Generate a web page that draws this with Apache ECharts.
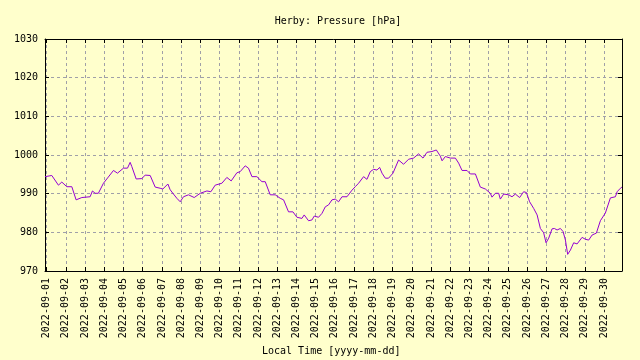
<!DOCTYPE html>
<html><head><meta charset="utf-8">
<script src="https://cdn.jsdelivr.net/npm/echarts@6/dist/echarts.min.js"></script>
<style>html,body{margin:0;padding:0;background:#ffffcc}#c{width:640px;height:360px}</style>
</head><body><div id="c"></div>
<script>
const titleText = "Herby: Pressure [hPa]";
const xAxisName = "Local Time [yyyy-mm-dd]";
const xMin = "2022-08-31 22:00";
const xMax = "2022-09-30 22:30";
const yTicks = [970, 980, 990, 1000, 1010, 1020, 1030];
const dayTicks = ["2022-09-01","2022-09-02","2022-09-03","2022-09-04","2022-09-05","2022-09-06","2022-09-07","2022-09-08","2022-09-09","2022-09-10","2022-09-11","2022-09-12","2022-09-13","2022-09-14","2022-09-15","2022-09-16","2022-09-17","2022-09-18","2022-09-19","2022-09-20","2022-09-21","2022-09-22","2022-09-23","2022-09-24","2022-09-25","2022-09-26","2022-09-27","2022-09-28","2022-09-29","2022-09-30"];
const times = ["2022-08-31 22:00","2022-09-01 06:30","2022-09-01 14:45","2022-09-01 19:00","2022-09-02 01:15","2022-09-02 07:30","2022-09-02 12:50","2022-09-02 20:00","2022-09-03 06:20","2022-09-03 09:15","2022-09-03 12:35","2022-09-03 16:40","2022-09-03 23:00","2022-09-04 11:30","2022-09-04 16:30","2022-09-05 00:00","2022-09-05 05:00","2022-09-05 08:20","2022-09-05 10:25","2022-09-05 15:50","2022-09-05 22:55","2022-09-06 03:05","2022-09-06 09:20","2022-09-06 15:35","2022-09-06 21:50","2022-09-07 01:10","2022-09-07 07:25","2022-09-07 10:20","2022-09-07 14:25","2022-09-07 18:40","2022-09-07 22:50","2022-09-08 02:55","2022-09-08 09:10","2022-09-08 16:20","2022-09-08 23:50","2022-09-09 08:10","2022-09-09 13:10","2022-09-09 18:30","2022-09-10 02:55","2022-09-10 09:05","2022-09-10 14:30","2022-09-10 21:35","2022-09-11 01:45","2022-09-11 08:00","2022-09-11 12:05","2022-09-11 16:25","2022-09-11 22:35","2022-09-12 04:55","2022-09-12 09:00","2022-09-12 15:15","2022-09-12 21:30","2022-09-13 03:45","2022-09-13 07:55","2022-09-13 14:05","2022-09-13 19:35","2022-09-14 00:35","2022-09-14 06:50","2022-09-14 09:40","2022-09-14 11:50","2022-09-14 15:05","2022-09-14 19:20","2022-09-14 22:10","2022-09-15 03:35","2022-09-15 07:50","2022-09-15 12:00","2022-09-15 16:05","2022-09-15 20:20","2022-09-16 00:30","2022-09-16 04:35","2022-09-16 08:50","2022-09-16 15:05","2022-09-16 21:20","2022-09-17 01:25","2022-09-17 05:35","2022-09-17 11:50","2022-09-17 16:00","2022-09-17 20:10","2022-09-18 00:20","2022-09-18 04:35","2022-09-18 07:50","2022-09-18 10:50","2022-09-18 14:55","2022-09-18 19:00","2022-09-19 00:30","2022-09-19 07:30","2022-09-19 13:45","2022-09-19 20:00","2022-09-20 02:15","2022-09-20 08:30","2022-09-20 14:00","2022-09-20 19:00","2022-09-21 01:15","2022-09-21 06:40","2022-09-21 11:40","2022-09-21 13:50","2022-09-21 17:55","2022-09-22 00:10","2022-09-22 06:25","2022-09-22 10:30","2022-09-22 14:45","2022-09-22 21:00","2022-09-23 01:05","2022-09-23 07:25","2022-09-23 13:35","2022-09-23 19:55","2022-09-24 02:05","2022-09-24 04:10","2022-09-24 08:25","2022-09-24 12:30","2022-09-24 14:35","2022-09-24 18:45","2022-09-25 01:00","2022-09-25 05:10","2022-09-25 09:20","2022-09-25 14:40","2022-09-25 19:40","2022-09-25 23:05","2022-09-26 03:10","2022-09-26 08:10","2022-09-26 12:30","2022-09-26 16:35","2022-09-26 20:40","2022-09-26 23:40","2022-09-27 03:00","2022-09-27 07:10","2022-09-27 10:05","2022-09-27 13:25","2022-09-27 17:35","2022-09-27 20:55","2022-09-27 23:50","2022-09-28 02:40","2022-09-28 06:05","2022-09-28 10:10","2022-09-28 14:25","2022-09-28 20:40","2022-09-29 00:50","2022-09-29 04:55","2022-09-29 09:10","2022-09-29 14:30","2022-09-29 19:30","2022-09-30 01:45","2022-09-30 08:00","2022-09-30 14:15","2022-09-30 16:25","2022-09-30 20:30","2022-09-30 22:25"];
const pressure = [994.4,994.7,992.2,993.0,991.8,991.8,988.4,989.0,989.2,990.7,990.1,990.1,992.7,996.0,995.3,996.6,996.6,998.1,997.0,993.8,993.9,994.8,994.7,991.7,991.4,991.2,992.5,991.0,989.9,988.8,987.9,989.2,989.7,989.0,990.1,990.7,990.5,992.2,992.7,994.2,993.3,995.4,995.7,997.2,996.6,994.4,994.4,993.1,993.1,989.7,989.7,988.8,988.4,985.3,985.3,983.9,983.6,984.5,984.9,983.0,983.2,984.2,983.9,984.9,986.6,987.1,988.4,988.6,987.9,989.2,989.2,990.9,991.8,992.7,994.4,993.7,995.7,996.3,996.1,996.8,995.3,994.0,994.0,995.3,998.7,997.6,998.9,999.2,1000.3,999.2,1000.7,1000.9,1001.3,999.7,998.5,999.6,999.2,999.2,997.9,996.0,996.0,995.1,995.1,991.7,991.2,990.1,989.1,990.1,990.1,988.6,989.9,989.7,989.2,989.9,989.0,990.5,990.3,987.9,986.2,984.5,981.0,979.9,977.3,978.5,980.9,981.0,980.6,981.0,980.2,978.0,974.3,975.4,977.3,977.0,978.7,978.2,978.0,979.3,979.8,983.0,985.0,988.9,989.2,990.5,991.4,991.7];

function ts(s){const p=s.split(/[- :]/).map(Number);return Date.UTC(p[0],p[1]-1,p[2],p[3]||0,p[4]||0);}
const dayVals = dayTicks.map(ts);
const seriesData = times.map((t,i)=>[ts(t), pressure[i]]);
const font = "DejaVu Sans Mono";
const grid = {left:45, right:18, top:39, bottom:89};
const gridLine = {show:true, lineStyle:{color:'#a0a0a8', type:[3,3], width:1}};
function xAx(pos, labels){
  return {type:'value', position:pos, min:ts(xMin), max:ts(xMax), gridIndex:0,
    axisLine:{show:true, onZero:false, lineStyle:{color:'#000', width:1}},
    axisTick:{show:true, inside:true, length:4, customValues:dayVals, lineStyle:{color:'#000'}},
    axisLabel:{show:labels, customValues:dayVals, rotate:90, margin:7, color:'#000', fontFamily:font, fontSize:10,
      formatter:(v)=>{const d=new Date(v);return d.getUTCFullYear()+'-'+String(d.getUTCMonth()+1).padStart(2,'0')+'-'+String(d.getUTCDate()).padStart(2,'0');}},
    splitLine: labels ? gridLine : {show:false}};
}
function yAx(pos, labels){
  return {type:'value', position:pos, min:yTicks[0], max:yTicks[yTicks.length-1], interval:10,
    axisLine:{show:true, onZero:false, lineStyle:{color:'#000', width:1}},
    axisTick:{show:true, inside:true, length:4, lineStyle:{color:'#000'}},
    axisLabel:{show:labels, margin:7, color:'#000', fontFamily:font, fontSize:10, formatter:(v)=>String(v)},
    splitLine: labels ? gridLine : {show:false}};
}
const chart = echarts.init(document.getElementById('c'), null, {renderer:'canvas'});
chart.setOption({
  backgroundColor:'#ffffcc',
  animation:false,
  title:{text:titleText, left:333, top:11, textAlign:'center', textStyle:{fontFamily:font, fontSize:10, fontWeight:'normal', color:'#000'}},
  grid:grid,
  xAxis:[xAx('bottom', true), xAx('top', false)],
  yAxis:[yAx('left', true), yAx('right', false)],
  graphic:[{type:'text', left:262, top:346, style:{text:xAxisName, fontFamily:font, fontSize:10, fill:'#000'}}],
  series:[{type:'line', data:seriesData, xAxisIndex:0, yAxisIndex:0, showSymbol:false, lineStyle:{color:'#9400d3', width:1}, itemStyle:{color:'#9400d3'}}]
});
</script></body></html>
